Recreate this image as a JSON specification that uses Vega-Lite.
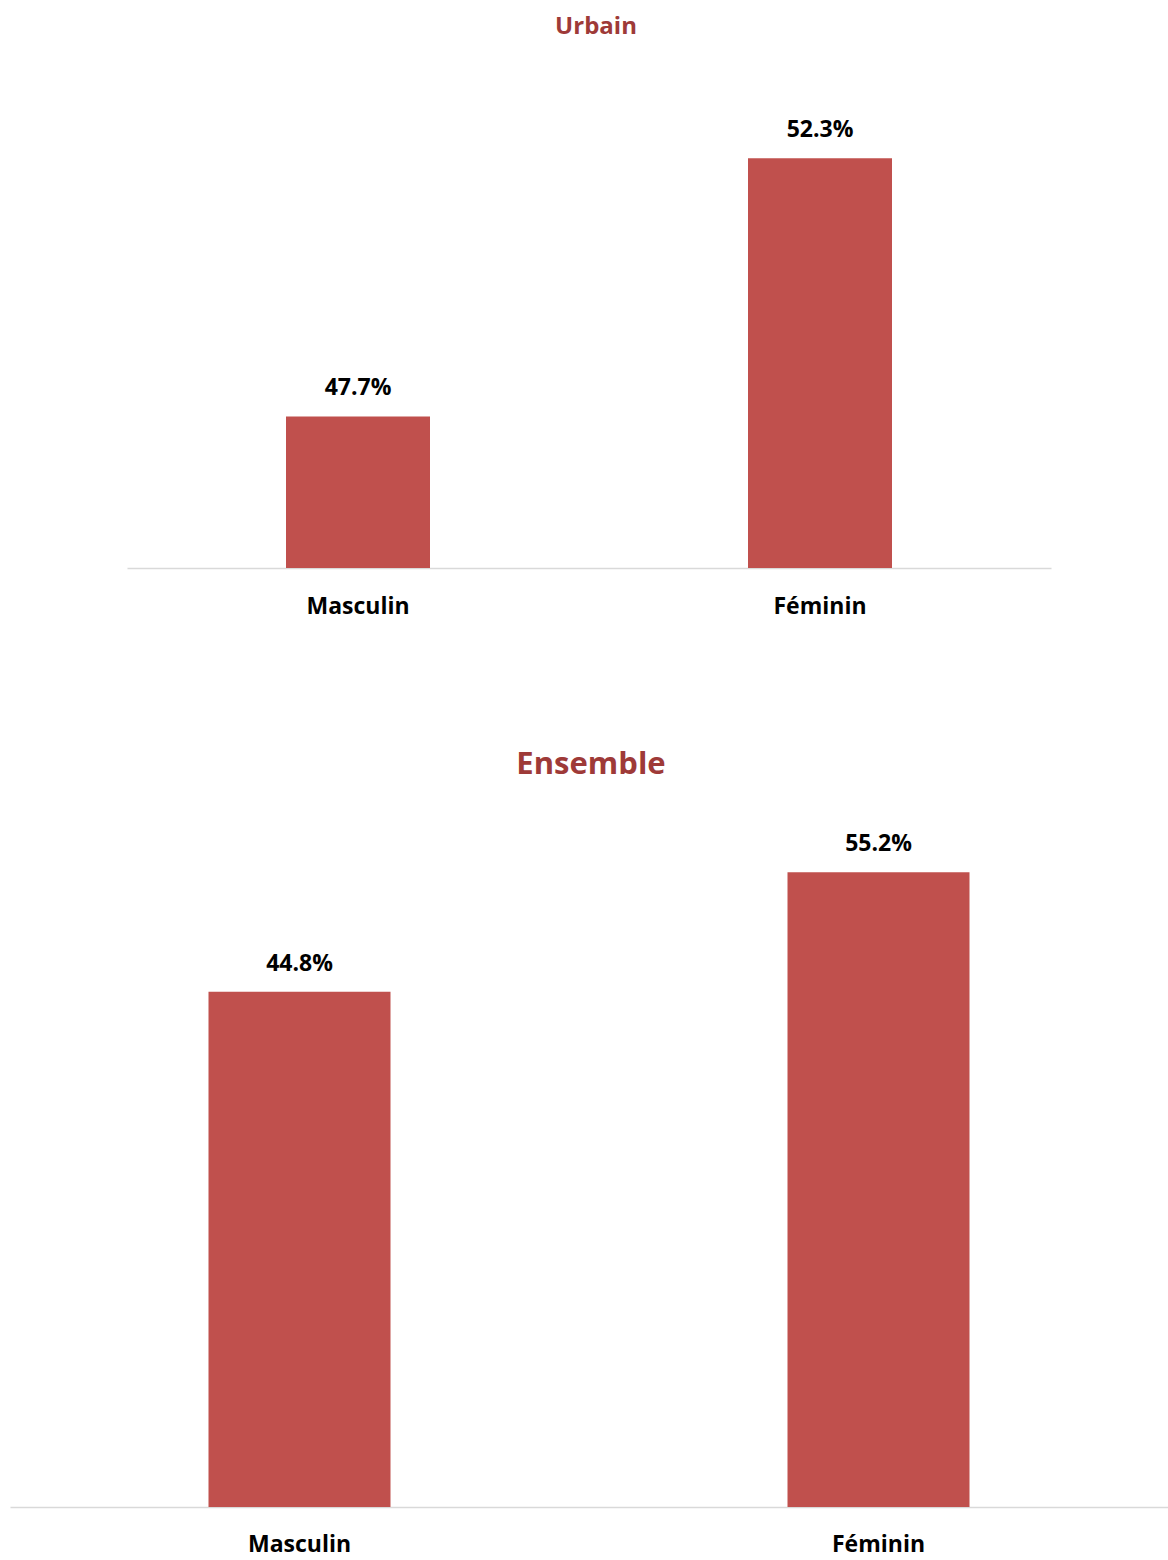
{
  "$schema": "https://vega.github.io/schema/vega-lite/v6.json",
  "padding": {"left": 10, "top": 15, "right": 0, "bottom": 0},
  "background": "white",
  "center": true,
  "spacing": 131,
  "config": {
    "view": {"stroke": null},
    "font": "Open Sans",
    "axisX": {
      "domainColor": "#D9D9D9",
      "domainWidth": 1.5,
      "ticks": false,
      "grid": false,
      "labelFont": "Open Sans",
      "labelFontSize": 23,
      "labelFontWeight": "bold",
      "labelColor": "#000000",
      "labelAngle": 0,
      "labelPadding": 27,
      "title": null
    }
  },
  "datasets": {
    "urbain": [
      {"sexe": "Masculin", "part": 0.477},
      {"sexe": "Féminin", "part": 0.523}
    ],
    "ensemble": [
      {"sexe": "Masculin", "part": 0.448},
      {"sexe": "Féminin", "part": 0.552}
    ]
  },
  "vconcat": [
    {
      "width": 924,
      "height": 449,
      "data": {"name": "urbain"},
      "title": {"text": "Urbain", "fontSize": 24, "fontWeight": "bold", "color": "#9E3A38", "font": "Open Sans", "offset": 80, "dx": 7},
      "encoding": {
        "x": {"field": "sexe", "type": "nominal", "sort": ["Masculin", "Féminin"], "axis": {}},
        "y": {"field": "part", "type": "quantitative", "scale": {"domain": [0.45, 0.53], "zero": false, "nice": false}, "axis": null}
      },
      "layer": [
        {"mark": {"type": "bar", "size": 144, "color": "#C0504D", "clip": true}},
        {"mark": {"type": "text", "baseline": "middle", "dy": -28, "fontSize": 23, "fontWeight": "bold", "color": "#000000", "font": "Open Sans"},
         "encoding": {"text": {"field": "part", "type": "quantitative", "format": ".1%"}}}
      ]
    },
    {
      "width": 1158,
      "height": 690,
      "data": {"name": "ensemble"},
      "title": {"text": "Ensemble", "fontSize": 31, "fontWeight": "bold", "color": "#9E3A38", "font": "Open Sans", "offset": 36, "dx": 2},
      "encoding": {
        "x": {"field": "sexe", "type": "nominal", "sort": ["Masculin", "Féminin"], "axis": {"labelPadding": 26}},
        "y": {"field": "part", "type": "quantitative", "scale": {"domain": [0, 0.6], "nice": false}, "axis": null}
      },
      "layer": [
        {"mark": {"type": "bar", "size": 182, "color": "#C0504D"}},
        {"mark": {"type": "text", "baseline": "middle", "dy": -28, "fontSize": 23, "fontWeight": "bold", "color": "#000000", "font": "Open Sans"},
         "encoding": {"text": {"field": "part", "type": "quantitative", "format": ".1%"}}}
      ]
    }
  ]
}
